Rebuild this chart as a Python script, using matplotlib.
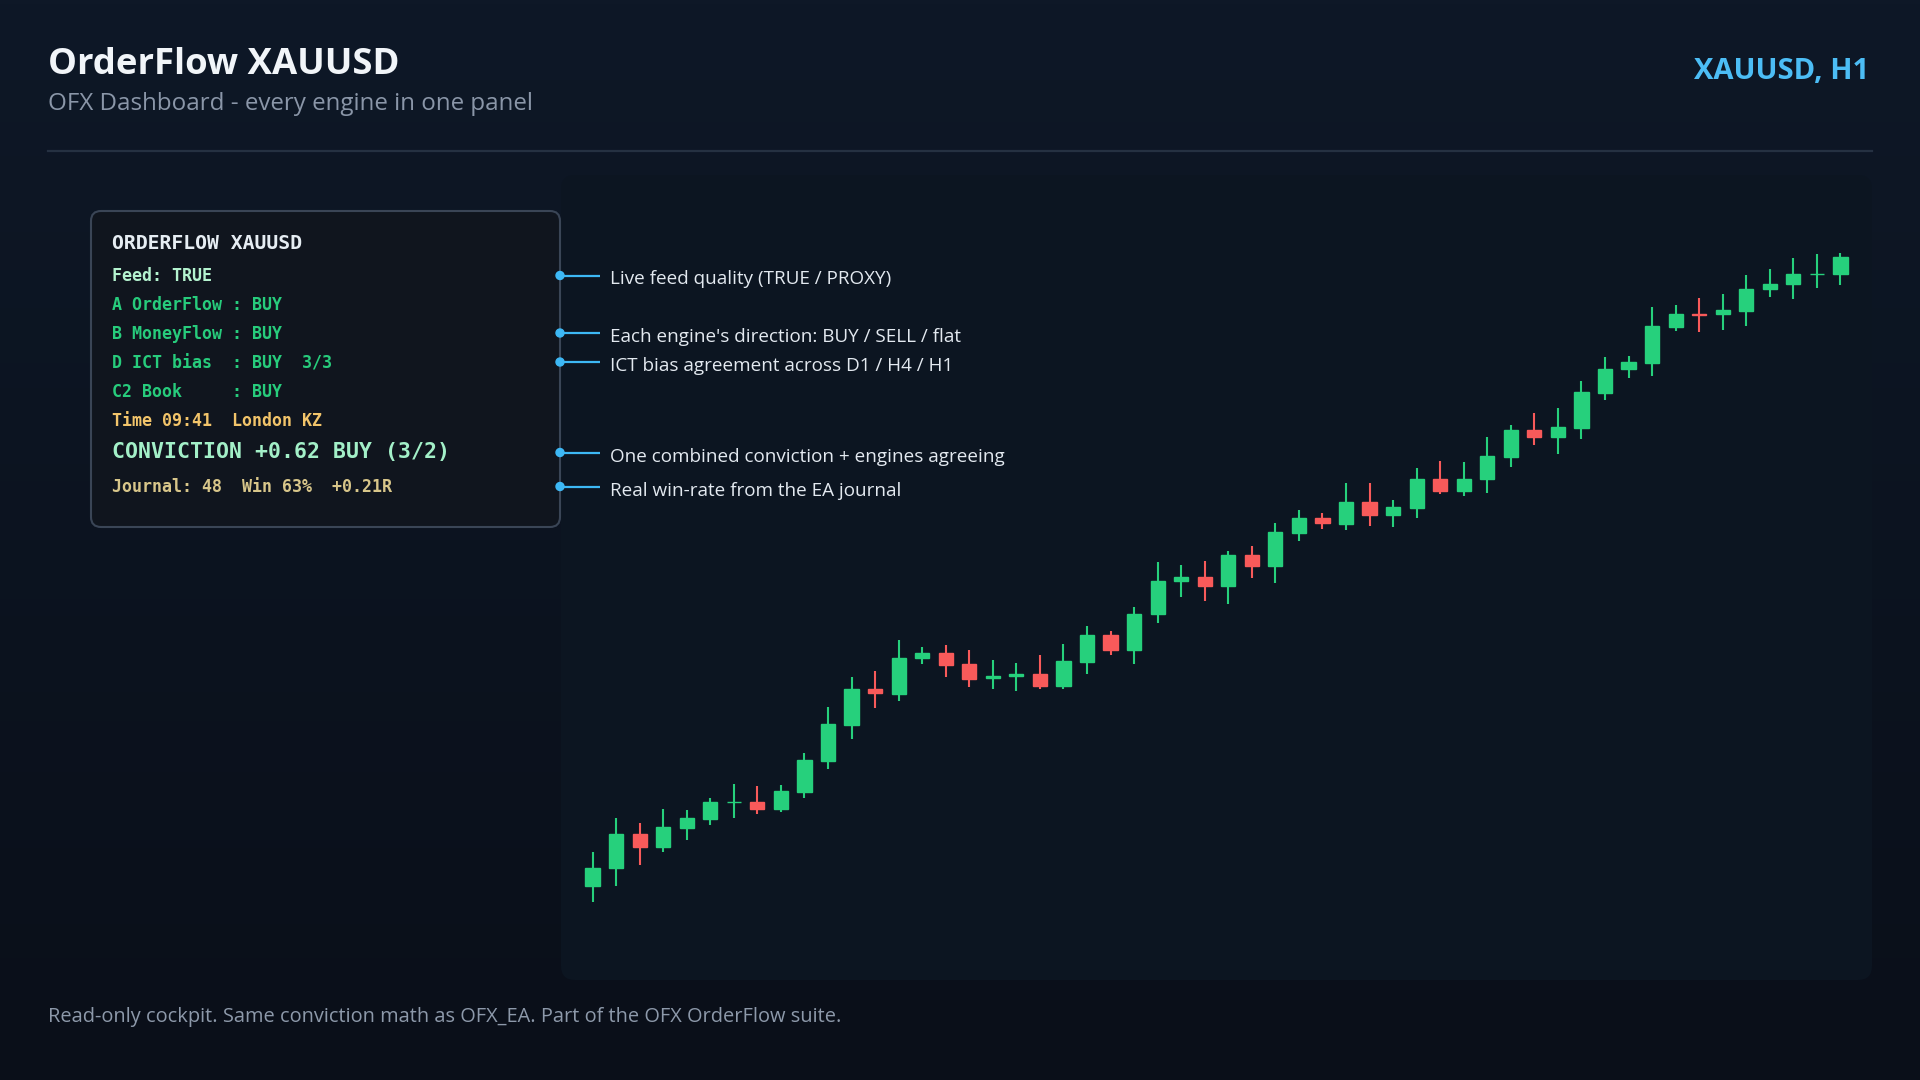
import matplotlib
matplotlib.use("Agg")
import matplotlib.pyplot as plt
import numpy as np
from matplotlib.patches import FancyBboxPatch, Circle

# ---- data (arbitrary price units) ----
opens = [114, 132, 166, 153, 172, 181, 198, 198, 191, 208, 239, 275, 311, 306, 342, 347, 336, 322,
         324, 326, 314, 338, 365, 350, 386, 419, 423, 414, 445, 434, 467, 482, 476, 498, 485, 492,
         521, 509, 521, 543, 570, 563, 572, 607, 631, 637, 673, 686, 686, 689, 711, 716, 726, 726]
highs = [148, 182, 177, 191, 190, 202, 216, 214, 215, 247, 293, 323, 329, 360, 353, 355, 350, 340,
         337, 345, 356, 374, 369, 393, 438, 435, 439, 449, 454, 477, 490, 487, 517, 517, 500, 532,
         539, 538, 563, 575, 587, 592, 619, 643, 644, 693, 695, 702, 706, 725, 731, 742, 746, 747]
lows = [98, 114, 135, 148, 160, 175, 182, 186, 188, 202, 231, 261, 292, 299, 336, 323, 313, 311,
        309, 311, 311, 326, 345, 336, 377, 403, 399, 396, 422, 417, 459, 471, 470, 474, 473, 482,
        506, 504, 507, 533, 555, 546, 561, 600, 622, 624, 669, 668, 670, 674, 703, 701, 712, 715]
closes = [132, 166, 153, 173, 182, 198, 198, 191, 209, 240, 276, 311, 307, 342, 347, 335, 321, 324,
          326, 314, 339, 365, 350, 386, 419, 423, 414, 445, 434, 468, 482, 477, 498, 485, 493, 521,
          509, 521, 544, 570, 563, 573, 608, 631, 638, 674, 686, 685.5, 690, 711, 716, 726, 726, 743]

title = "OrderFlow XAUUSD"
subtitle = "OFX Dashboard - every engine in one panel"
symbol = "XAUUSD, H1"
footer = "Read-only cockpit. Same conviction math as OFX_EA. Part of the OFX OrderFlow suite."

panel_lines = [
    ("ORDERFLOW XAUUSD", "#e6edf3", 14.2),
    ("Feed: TRUE", "#b4f3cf", 12),
    ("A OrderFlow : BUY", "#27cc7c", 12),
    ("B MoneyFlow : BUY", "#27cc7c", 12),
    ("D ICT bias  : BUY  3/3", "#27cc7c", 12),
    ("C2 Book     : BUY", "#27cc7c", 12),
    ("Time 09:41  London KZ", "#f2c46a", 12),
    ("CONVICTION +0.62 BUY (3/2)", "#a3f0c8", 15.5),
    ("Journal: 48  Win 63%  +0.21R", "#d8c68a", 12),
]
line_baselines = [249, 281, 310, 339, 368, 397, 426, 458, 492]

callouts = [
    (275.5, "Live feed quality (TRUE / PROXY)"),
    (333, "Each engine's direction: BUY / SELL / flat"),
    (362, "ICT bias agreement across D1 / H4 / H1"),
    (452.5, "One combined conviction + engines agreeing"),
    (486.5, "Real win-rate from the EA journal"),
]

GREEN = "#26d07c"
RED = "#f85a5a"
SANS = ["Open Sans", "DejaVu Sans"]
MONO = ["DejaVu Sans Mono"]

W, H = 1920, 1080
fig = plt.figure(figsize=(W / 100, H / 100), dpi=100)

# background axes in pixel coordinates
bg = fig.add_axes([0, 0, 1, 1])
bg.set_xlim(0, W)
bg.set_ylim(H, 0)
bg.axis("off")
grad = np.linspace(0, 1, 256).reshape(-1, 1)
top = np.array([0x0e, 0x18, 0x27]) / 255
bot = np.array([0x0a, 0x0f, 0x19]) / 255
img = top + (bot - top) * grad[..., None]
bg.imshow(img, extent=[0, W, H, 0], aspect="auto", zorder=0)

# chart panel
bg.add_patch(FancyBboxPatch((561, 175), 1311, 805, boxstyle="round,pad=0,rounding_size=14",
                            facecolor="#0c1521", edgecolor="none", zorder=1))

# header
renderer = fig.canvas.get_renderer()


def fit(x, y, s, width, size, **kw):
    t = bg.text(x, y, s, fontsize=size, **kw)
    w = t.get_window_extent(renderer).width
    t.set_fontsize(size * width / w)
    return t


fit(48, 74, title, 352, 26, color="#f1f5f9", fontweight="bold", family=SANS, va="baseline", zorder=3)
fit(48, 110, subtitle, 485, 16, color="#8a96a8", family=SANS, va="baseline", zorder=3)
fit(1869, 79, symbol, 175, 21, color="#4cbdf5", fontweight="bold", family=SANS,
    ha="right", va="baseline", zorder=3)
bg.plot([48, 1872], [151, 151], color="#253142", lw=1.6, zorder=2)
fit(48, 1022, footer, 795, 14, color="#8d99aa", family=SANS, va="baseline", zorder=3)

# engine panel box
bg.add_patch(FancyBboxPatch((91, 211), 469, 316, boxstyle="round,pad=0,rounding_size=10",
                            facecolor="#10151e", edgecolor="#3a4556", lw=1.5, zorder=2))
for (txt, col, size), yb in zip(panel_lines, line_baselines):
    bg.text(112, yb, txt, fontsize=size, color=col, family=MONO, fontweight="bold",
            va="baseline", zorder=3)

# callouts
ann_size = None
for yy, txt in callouts:
    bg.plot([560, 600], [yy, yy], color="#3db8f5", lw=1.6, zorder=3, solid_capstyle="butt")
    bg.add_patch(Circle((560, yy), 4, color="#3db8f5", zorder=4))
    if ann_size is None:
        t = fit(610, yy + 4, callouts[3][1], 398, 14, color="#e3e9f0", family=SANS, va="center")
        ann_size = t.get_fontsize()
        t.remove()
    bg.text(610, yy + 4, txt, fontsize=ann_size, color="#e3e9f0", family=SANS, va="center", zorder=3)

# candles
ax = fig.add_axes([561 / W, 1 - 980 / H, 1311 / W, 805 / H])
ax.patch.set_alpha(0)
ax.axis("off")
o = np.array(opens, dtype=float)
c = np.array(closes, dtype=float)
hi = np.array(highs, dtype=float)
lo = np.array(lows, dtype=float)
x = np.arange(len(o))
cols = np.where(c >= o, GREEN, RED)
ax.vlines(x, lo, hi, colors=cols, lw=1.5, zorder=2)
ax.bar(x, np.abs(c - o), bottom=np.minimum(o, c), width=0.6, color=cols, edgecolor=cols,
       linewidth=1.0, zorder=3)
ax.set_xlim(-1.34, len(o) - 1 + 1.34)
ax.set_ylim(20, 825)

fig.savefig("out.png", dpi=100, facecolor="#0c1421")
